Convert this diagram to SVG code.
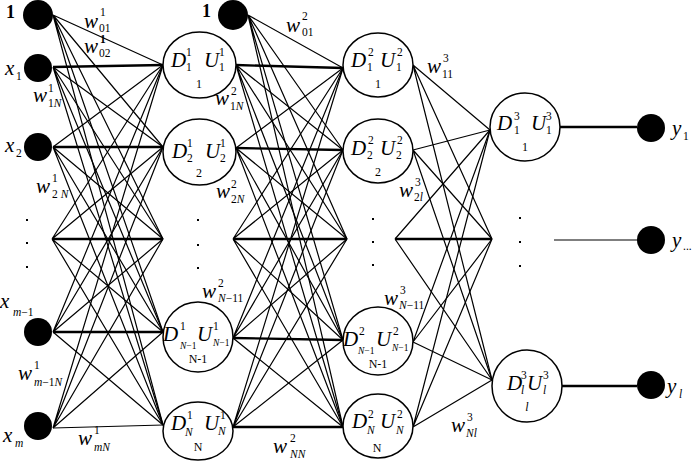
<svg xmlns="http://www.w3.org/2000/svg" width="694" height="462" viewBox="0 0 694 462">
<style>
.bg{fill:#fff}
.c{fill:none;stroke:#000;stroke-width:1.2}
.b{fill:none;stroke:#000;stroke-width:2.3}
.n{fill:#fff;stroke:#000;stroke-width:1.5}
.f{fill:#000}
.t{font-family:"Liberation Serif",serif;fill:#000}
.i{font-style:italic}
.L{font-size:21px}
.s{font-size:11.5px}
.x{font-size:9.5px}
.m{font-size:12px}
.k{font-weight:bold;font-size:18px}
</style>
<rect class="bg" x="0" y="0" width="694" height="462"/>
<g id="connectors">
<path class="c" d="M53 15L163 65M53 15L163 147M53 15L163 239M53 15L163 332M53 15L163 425"/>
<path class="c" d="M53 67L163 147M53 67L163 239M53 67L163 332M53 67L163 425"/>
<path class="c" d="M53 147L163 65M53 147L163 239M53 147L163 332M53 147L163 425"/>
<path class="c" d="M52 239L163 65M52 239L163 147M52 239L163 332M52 239L163 425"/>
<path class="c" d="M53 332L163 65M53 332L163 147M53 332L163 239M53 332L163 425"/>
<path class="c" d="M53 428L163 65M53 428L163 147M53 428L163 239M53 428L163 332"/>
<path class="b" d="M53 67L163 65M53 147L163 147M52 239L163 239M53 332L163 332"/>
<path class="c" d="M53 428L163 425"/>
<path class="c" d="M248 15L343 68M248 15L343 150M248 15L347 239M248 15L343 340M248 15L343 427"/>
<path class="c" d="M236 65L343 150M236 65L347 239M236 65L343 340M236 65L343 427"/>
<path class="c" d="M236 148L343 68M236 148L347 239M236 148L343 340M236 148L343 427"/>
<path class="c" d="M233 239L343 68M233 239L343 150M233 239L343 340M233 239L343 427"/>
<path class="c" d="M233 338L343 68M233 338L343 150M233 338L347 239M233 338L343 427"/>
<path class="c" d="M233 427L343 68M233 427L343 150M233 427L347 239M233 427L343 340"/>
<path class="b" d="M236 65L343 68M236 148L343 150M233 239L347 239M233 338L343 340M233 427L343 427"/>
<path class="c" d="M413 65L490 130M413 65L492 239M413 65L492 380"/>
<path class="c" d="M413 150L490 130M413 150L492 239M413 150L492 380"/>
<path class="c" d="M395 239L490 130M395 239L492 380"/>
<path class="c" d="M413 342L490 130M413 342L492 239M413 342L492 380"/>
<path class="c" d="M413 427L490 130M413 427L492 239M413 427L492 380"/>
<path class="b" d="M395 239L492 239"/>
<path class="b" d="M560 127L637 127M562 386L637 386"/>
<path class="c" d="M554 240L637 240"/>
</g>
<g id="in-bias">
<circle class="f" cx="38" cy="15" r="15"/>
<text class="t k" x="6" y="18">1</text>
</g>
<g id="in-x1">
<circle class="f" cx="38" cy="68" r="14"/>
<text class="t i L" x="5" y="75">x</text><text class="t s" x="16" y="80">1</text>
</g>
<g id="in-x2">
<circle class="f" cx="38" cy="147" r="14"/>
<text class="t i L" x="5" y="152">x</text><text class="t s" x="16" y="157">2</text>
</g>
<g id="in-dots">
<rect class="f" x="26" y="219" width="2" height="2"/>
<rect class="f" x="26" y="242" width="2" height="2"/>
<rect class="f" x="26" y="266" width="2" height="2"/>
</g>
<g id="in-xm1">
<circle class="f" cx="38" cy="332" r="14"/>
<text class="t i L" x="0" y="308">x</text><text class="t s" x="13" y="316"><tspan class="i">m</tspan>−1</text>
</g>
<g id="in-xm">
<circle class="f" cx="38" cy="426" r="14"/>
<text class="t i L" x="3" y="442">x</text><text class="t s i" x="15" y="447">m</text>
</g>
<g id="h1-1">
<ellipse class="n" cx="199.5" cy="65" rx="36.5" ry="33"/>
<text class="t i L" x="171" y="67">D</text><text class="t s" x="186" y="56">1</text><text class="t s" x="186" y="71">1</text>
<text class="t i L" x="204" y="67">U</text><text class="t s" x="219" y="56">1</text><text class="t s" x="219" y="71">1</text>
<text class="t m" x="199" y="88" text-anchor="middle">1</text>
</g>
<g id="h1-2">
<ellipse class="n" cx="199.5" cy="152" rx="36.5" ry="33"/>
<text class="t i L" x="172" y="158">D</text><text class="t s" x="187" y="147">1</text><text class="t s" x="187" y="162">2</text>
<text class="t i L" x="205" y="158">U</text><text class="t s" x="220" y="147">1</text><text class="t s" x="220" y="162">2</text>
<text class="t m" x="199" y="177" text-anchor="middle">2</text>
</g>
<g id="h1-dots">
<rect class="f" x="197" y="219" width="2" height="2"/>
<rect class="f" x="197" y="244" width="2" height="2"/>
<rect class="f" x="197" y="267" width="2" height="2"/>
</g>
<g id="h1-n1">
<ellipse class="n" cx="198" cy="337" rx="35" ry="35"/>
<text class="t i L" x="163" y="341">D</text><text class="t s" x="180" y="330">1</text><text class="t x" x="180" y="349"><tspan class="i">N</tspan>−1</text>
<text class="t i L" x="197" y="341">U</text><text class="t s" x="213" y="330">1</text><text class="t x" x="213" y="346"><tspan class="i">N</tspan>−1</text>
<text class="t m" x="198" y="363" text-anchor="middle">N-1</text>
</g>
<g id="h1-n">
<ellipse class="n" cx="198" cy="431" rx="35" ry="29"/>
<text class="t i L" x="171" y="430">D</text><text class="t s" x="187" y="419">1</text><text class="t s i" x="185" y="436">N</text>
<text class="t i L" x="204" y="430">U</text><text class="t s" x="220" y="419">1</text><text class="t s i" x="218" y="435">N</text>
<text class="t m" x="198" y="451" text-anchor="middle">N</text>
</g>
<g id="bias2">
<circle class="f" cx="233" cy="15" r="15"/>
<text class="t k" x="202" y="17">1</text>
</g>
<g id="h2-1">
<ellipse class="n" cx="378" cy="65" rx="35" ry="32"/>
<text class="t i L" x="351" y="67">D</text><text class="t s" x="368" y="56">2</text><text class="t s" x="367" y="71">1</text>
<text class="t i L" x="380" y="67">U</text><text class="t s" x="397" y="56">2</text><text class="t s" x="396" y="71">1</text>
<text class="t m" x="378" y="88" text-anchor="middle">1</text>
</g>
<g id="h2-2">
<ellipse class="n" cx="378" cy="151" rx="35" ry="32"/>
<text class="t i L" x="351" y="155">D</text><text class="t s" x="368" y="144">2</text><text class="t s" x="367" y="159">2</text>
<text class="t i L" x="380" y="155">U</text><text class="t s" x="397" y="144">2</text><text class="t s" x="396" y="159">2</text>
<text class="t m" x="378" y="176" text-anchor="middle">2</text>
</g>
<g id="h2-dots">
<rect class="f" x="372" y="218" width="2" height="2"/>
<rect class="f" x="372" y="241" width="2" height="2"/>
<rect class="f" x="372" y="264" width="2" height="2"/>
</g>
<g id="h2-n1">
<ellipse class="n" cx="378" cy="341" rx="35" ry="34"/>
<text class="t i L" x="343" y="346">D</text><text class="t s" x="359" y="335">2</text><text class="t x" x="358" y="354"><tspan class="i">N</tspan>−1</text>
<text class="t i L" x="376" y="346">U</text><text class="t s" x="393" y="335">2</text><text class="t x" x="392" y="351"><tspan class="i">N</tspan>−1</text>
<text class="t m" x="378" y="368" text-anchor="middle">N-1</text>
</g>
<g id="h2-n">
<ellipse class="n" cx="378" cy="426" rx="35" ry="32"/>
<text class="t i L" x="352" y="428">D</text><text class="t s" x="368" y="418">2</text><text class="t s i" x="367" y="434">N</text>
<text class="t i L" x="380" y="428">U</text><text class="t s" x="397" y="418">2</text><text class="t s i" x="396" y="434">N</text>
<text class="t m" x="377" y="452" text-anchor="middle">N</text>
</g>
<g id="o-1">
<ellipse class="n" cx="525" cy="127" rx="35" ry="34"/>
<text class="t i L" x="497" y="130">D</text><text class="t s" x="514" y="120">3</text><text class="t s" x="514" y="134">1</text>
<text class="t i L" x="531" y="130">U</text><text class="t s" x="546" y="120">3</text><text class="t s" x="546" y="134">1</text>
<text class="t m" x="525" y="151" text-anchor="middle">1</text>
</g>
<g id="o-dots">
<rect class="f" x="519" y="217" width="2" height="2"/>
<rect class="f" x="519" y="241" width="2" height="2"/>
<rect class="f" x="519" y="265" width="2" height="2"/>
</g>
<g id="o-l">
<ellipse class="n" cx="527" cy="386" rx="35" ry="36"/>
<text class="t i L" x="507" y="390">D</text><text class="t s" x="521" y="379">3</text><text class="t s i" x="521" y="394">l</text>
<text class="t i L" x="527" y="390">U</text><text class="t s" x="543" y="379">3</text><text class="t s i" x="543" y="394">l</text>
<text class="t m i" x="527" y="411" text-anchor="middle">l</text>
</g>
<g id="y-1">
<circle class="f" cx="651" cy="128" r="14"/>
<text class="t i L" x="672" y="135">y</text><text class="t s" x="683" y="140">1</text>
</g>
<g id="y-mid">
<circle class="f" cx="651" cy="240" r="14"/>
<text class="t i L" x="672" y="247">y</text><text class="t s" x="683" y="250">...</text>
</g>
<g id="y-l">
<circle class="f" cx="651" cy="385" r="14"/>
<text class="t i L" x="667" y="393">y</text><text class="t s i" x="679" y="398">l</text>
</g>
<g id="weights">
<text class="t i L" x="84" y="28">w</text><text class="t s" x="100" y="16">1</text><text class="t s" x="99" y="32">01</text>
<text class="t i L" x="84" y="53">w</text><text class="t s" x="100" y="43" font-weight="bold">1</text><text class="t s" x="99" y="57">02</text>
<text class="t i L" x="33" y="102">w</text><text class="t s" x="48" y="92">1</text><text class="t s" x="48" y="107">1<tspan class="i">N</tspan></text>
<text class="t i L" x="36" y="193">w</text><text class="t s" x="52" y="182">1</text><text class="t s" x="52" y="198">2 <tspan class="i">N</tspan></text>
<text class="t i L" x="18" y="380">w</text><text class="t s" x="34" y="369">1</text><text class="t s" x="34" y="386"><tspan class="i">m</tspan>−1<tspan class="i">N</tspan></text>
<text class="t i L" x="78" y="445">w</text><text class="t s" x="94" y="434">1</text><text class="t s i" x="94" y="451">mN</text>
<text class="t i L" x="286" y="32">w</text><text class="t s" x="302" y="20">2</text><text class="t s" x="302" y="36">01</text>
<text class="t i L" x="215" y="105">w</text><text class="t s" x="231" y="95">2</text><text class="t s" x="230" y="110">1<tspan class="i">N</tspan></text>
<text class="t i L" x="216" y="198">w</text><text class="t s" x="231" y="188">2</text><text class="t s" x="231" y="203">2<tspan class="i">N</tspan></text>
<text class="t i L" x="202" y="298">w</text><text class="t s" x="218" y="287">2</text><text class="t s" x="218" y="302"><tspan class="i">N</tspan>−11</text>
<text class="t i L" x="273" y="453">w</text><text class="t s" x="290" y="442">2</text><text class="t s i" x="290" y="458">NN</text>
<text class="t i L" x="427" y="73">w</text><text class="t s" x="443" y="62">3</text><text class="t s" x="442" y="78">11</text>
<text class="t i L" x="399" y="197">w</text><text class="t s" x="415" y="186">3</text><text class="t s" x="414" y="201">2<tspan class="i">l</tspan></text>
<text class="t i L" x="384" y="305">w</text><text class="t s" x="400" y="294">3</text><text class="t s" x="399" y="309"><tspan class="i">N</tspan>−11</text>
<text class="t i L" x="451" y="432">w</text><text class="t s" x="467" y="421">3</text><text class="t s i" x="466" y="437">Nl</text>
</g>
</svg>
